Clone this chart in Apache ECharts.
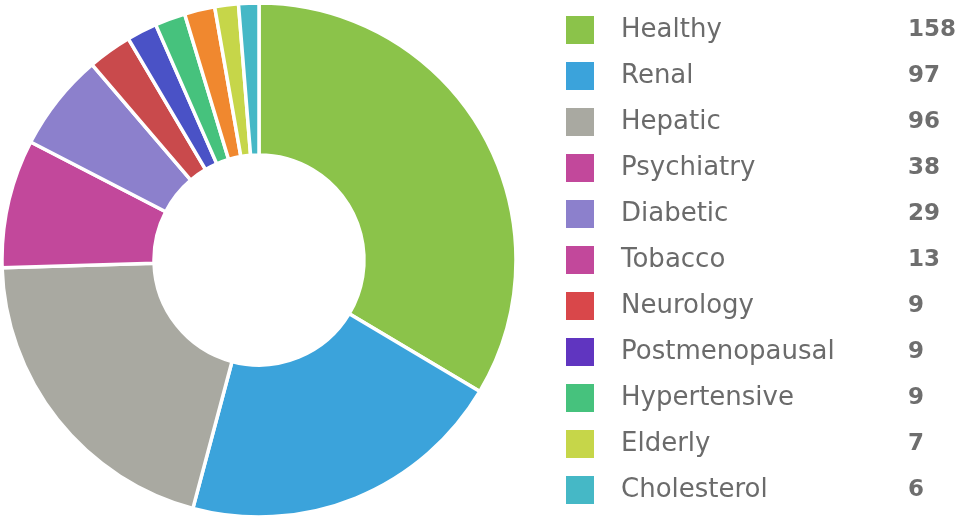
<!DOCTYPE html>
<html>
<head>
<meta charset="utf-8">
<script src="https://cdn.jsdelivr.net/npm/echarts@6/dist/echarts.min.js"></script>
<style>
html,body{margin:0;padding:0;background:#fff;}
#chart{width:956px;height:520px;}
</style>
</head>
<body>
<div id="chart"></div>
<script>
const categories = ['Healthy','Renal','Hepatic','Psychiatry','Diabetic','Tobacco','Neurology','Postmenopausal','Hypertensive','Elderly','Cholesterol'];
const values = [158, 97, 96, 38, 29, 13, 9, 9, 9, 7, 6];
const sliceColors = ['#8bc34a','#3ba3db','#a9a9a1','#c2489b','#8c80cc','#c94a4c','#4a52c6','#46c27d','#f0882f','#c6d649','#45b8c6'];
const legendColors = ['#8bc34a','#3ba3db','#a9a9a1','#c2489b','#8c80cc','#c2489b','#d9474a','#6035c0','#46c27d','#c6d649','#45b8c6'];

const chart = echarts.init(document.getElementById('chart'));
const valueByName = {};
categories.forEach((c, i) => { valueByName[c] = values[i]; });

chart.setOption({
  animation: false,
  legend: {
    orient: 'vertical',
    left: 566,
    top: 16,
    padding: 0,
    itemWidth: 28,
    itemHeight: 28,
    itemGap: 18,
    icon: 'rect',
    selectedMode: false,
    itemStyle: { borderWidth: 0 },
    data: categories.map((c, i) => ({ name: c, itemStyle: { color: legendColors[i], borderWidth: 0 } })),
    formatter: name => '{n|' + name + '}{v|' + valueByName[name] + '}',
    textStyle: {
      rich: {
        n: { fontFamily: 'DejaVu Sans', fontSize: 26, lineHeight: 28, color: '#6b6b6b', width: 287, padding: [0, 0, 0, 22] },
        v: { fontFamily: 'DejaVu Sans', fontSize: 23, lineHeight: 28, fontWeight: 'bold', color: '#6e6e6e' }
      }
    }
  },
  series: [{
    type: 'pie',
    center: [259, 260],
    radius: [105, 257],
    startAngle: 90,
    clockwise: true,
    label: { show: false },
    labelLine: { show: false },
    itemStyle: { borderColor: '#ffffff', borderWidth: 3.5 },
    data: categories.map((c, i) => ({ name: c, value: values[i], itemStyle: { color: sliceColors[i] } }))
  }]
});
</script>
</body>
</html>
